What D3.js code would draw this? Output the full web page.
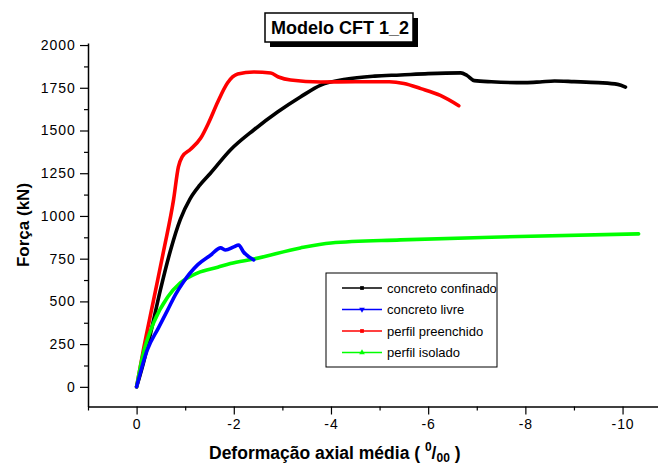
<!DOCTYPE html>
<html>
<head>
<meta charset="utf-8">
<script src="https://cdn.jsdelivr.net/npm/d3@7"></script>
<style>
  body { margin: 0; background: #fff; }
  text { font-family: "Liberation Sans", Arial, sans-serif; }
</style>
</head>
<body>
<svg id="chart"></svg>
<script>
// Curves: [deformation (per mil), force (kN)]
var concretoConfinado = [[0,0],[-0.14,140],[-0.29,316],[-0.49,567],[-0.70,801],[-0.9,980],[-1.1,1100],[-1.3,1180],[-1.52,1250],[-1.93,1386],[-2.41,1503],[-2.9,1608],[-3.37,1696],[-3.79,1766],[-4.3,1800],[-4.9,1818],[-5.43,1825],[-6.0,1833],[-6.67,1837],[-6.8,1822],[-6.95,1792],[-7.3,1785],[-8.0,1780],[-8.3,1784],[-8.6,1790],[-9.0,1786],[-9.5,1780],[-9.9,1770],[-10.06,1754]];
var concretoLivre = [[0,0],[-0.22,216],[-0.45,345],[-0.64,450],[-0.8,540],[-0.95,608],[-1.26,715],[-1.52,770],[-1.73,813],[-1.83,801],[-2.0,819],[-2.1,830],[-2.2,789],[-2.41,743]];
var perfilPreenchido = [[0,0],[-0.14,216],[-0.35,509],[-0.56,801],[-0.76,1094],[-0.86,1287],[-0.94,1347],[-1.11,1390],[-1.32,1456],[-1.48,1544],[-1.67,1667],[-1.87,1778],[-2.08,1830],[-2.41,1842],[-2.76,1836],[-2.92,1813],[-3.17,1795],[-3.79,1784],[-4.5,1785],[-5.2,1785],[-5.5,1775],[-5.85,1745],[-6.25,1705],[-6.63,1645]];
var perfilIsolado = [[0,0],[-0.12,175],[-0.35,374],[-0.64,526],[-0.9,608],[-1.26,667],[-1.67,700],[-1.93,722],[-2.41,748],[-3.37,813],[-4.0,842],[-5.43,860],[-7.49,877],[-10.33,895]];

var seriesNames = ["concreto confinado", "concreto livre", "perfil preenchido", "perfil isolado"];
var seriesColors = ["#000000", "#0000ff", "#ff0000", "#00ff00"];
var xMajorTicks = [0, -2, -4, -6, -8, -10];
var yMajorTicks = [0, 250, 500, 750, 1000, 1250, 1500, 1750, 2000];

var width = 658,
    height = 466;

var svg = d3.select("#chart")
  .attr("width", width)
  .attr("height", height);

var x = d3.scaleLinear().domain([1, -10.75]).range([88, 659]);
var y = d3.scaleLinear().domain([-115, 2012]).range([406.5, 43]);

// axes
var xAxis = svg.append("g")
  .attr("transform", "translate(0," + y(-115) + ")")
  .call(d3.axisBottom(x).tickValues(xMajorTicks).tickFormat(function(d) { return String(d); }).tickSize(8).tickSizeOuter(0));

svg.append("g")
  .attr("transform", "translate(0," + y(-115) + ")")
  .call(d3.axisBottom(x).tickValues(d3.range(1, -11, -2)).tickFormat("").tickSize(4).tickSizeOuter(0))
  .select(".domain").remove();

var yAxis = svg.append("g")
  .attr("transform", "translate(" + x(1) + ",0)")
  .call(d3.axisLeft(y).tickValues(yMajorTicks).tickFormat(d3.format("d")).tickSize(8).tickSizeOuter(0));

svg.append("g")
  .attr("transform", "translate(" + x(1) + ",0)")
  .call(d3.axisLeft(y).tickValues(d3.range(125, 2000, 250)).tickFormat("").tickSize(4).tickSizeOuter(0))
  .select(".domain").remove();

svg.selectAll(".domain").attr("stroke", "#000").attr("stroke-width", 1.5);
svg.selectAll(".tick line").attr("stroke", "#000").attr("stroke-width", 1.2);
xAxis.selectAll("text").attr("font-size", 14).attr("letter-spacing", 0.9).attr("fill", "#000").attr("dy", "0.85em");
yAxis.selectAll("text").attr("font-size", 14).attr("letter-spacing", 0.9).attr("fill", "#000").attr("dx", "-0.1em");

// curves
var line = d3.line()
  .x(function(d) { return x(d[0]); })
  .y(function(d) { return y(d[1]); })
  .curve(d3.curveMonotoneX);

var drawOrder = [[concretoConfinado, 0], [perfilPreenchido, 2], [perfilIsolado, 3], [concretoLivre, 1]];
drawOrder.forEach(function(s) {
  svg.append("path")
    .datum(s[0])
    .attr("d", line)
    .attr("fill", "none")
    .attr("stroke", seriesColors[s[1]])
    .attr("stroke-width", 3.6)
    .attr("stroke-linejoin", "round")
    .attr("stroke-linecap", "round");
});

// title box with shadow
svg.append("rect").attr("x", 270).attr("y", 18).attr("width", 148).attr("height", 29).attr("fill", "#000");
svg.append("rect").attr("x", 265).attr("y", 13).attr("width", 148).attr("height", 29)
  .attr("fill", "#fff").attr("stroke", "#000").attr("stroke-width", 1.5);
svg.append("text").attr("x", 340).attr("y", 34)
  .attr("text-anchor", "middle").attr("font-size", 18).attr("font-weight", "bold")
  .text("Modelo CFT 1_2");

// legend
var legend = svg.append("g");
legend.append("rect").attr("x", 326).attr("y", 273).attr("width", 171).attr("height", 94)
  .attr("fill", "#fff").attr("stroke", "#000").attr("stroke-width", 1);

var markerSymbols = [d3.symbolSquare, d3.symbolTriangle, d3.symbolSquare, d3.symbolTriangle];
var markerRotate = [0, 180, 0, 0];
seriesNames.forEach(function(name, i) {
  var ly = 288 + i * 21.5;
  legend.append("line").attr("x1", 342).attr("x2", 382).attr("y1", ly).attr("y2", ly)
    .attr("stroke", seriesColors[i]).attr("stroke-width", 1.5);
  legend.append("path")
    .attr("d", d3.symbol().type(markerSymbols[i]).size(14))
    .attr("transform", "translate(362," + ly + ") rotate(" + markerRotate[i] + ")")
    .attr("fill", seriesColors[i]);
  legend.append("text").attr("x", 387).attr("y", ly + 4.5)
    .attr("font-size", 13).text(name);
});

// axis titles
svg.append("text")
  .attr("transform", "translate(29,225) rotate(-90)")
  .attr("text-anchor", "middle").attr("font-size", 17).attr("font-weight", "bold")
  .text("Força (kN)");

var xt = svg.append("text").attr("x", 209).attr("y", 459)
  .attr("font-size", 17.5).attr("font-weight", "bold");
xt.append("tspan").text("Deformação axial média ( ");
xt.append("tspan").attr("font-size", 12).attr("dy", -8).text("0");
xt.append("tspan").attr("dy", 8).text("/");
xt.append("tspan").attr("font-size", 12).attr("dy", 3).text("00");
xt.append("tspan").attr("dy", -3).text(" )");
</script>
</body>
</html>
